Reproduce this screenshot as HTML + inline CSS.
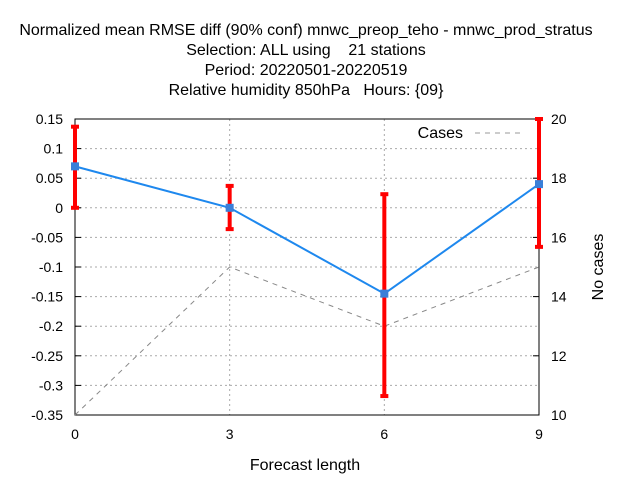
<!DOCTYPE html>
<html><head><meta charset="utf-8"><style>
body{margin:0;background:#fff}
svg text{font-family:"Liberation Sans",sans-serif;font-size:14px;fill:#000;white-space:pre}
svg text.big{font-size:16px}
</style></head><body>
<svg id="chart" width="640" height="480">
<g>
<text class="big" x="306" y="35" text-anchor="middle">Normalized mean RMSE diff (90% conf) mnwc_preop_teho - mnwc_prod_stratus</text>
<text class="big" x="306" y="55" text-anchor="middle">Selection: ALL using    21 stations</text>
<text class="big" x="306" y="75" text-anchor="middle">Period: 20220501-20220519</text>
<text class="big" x="306" y="95" text-anchor="middle">Relative humidity 850hPa   Hours: {09}</text>
</g>
<g id="grid"></g><g id="axes"></g><g id="marks"></g>
<text class="big" x="305" y="470" text-anchor="middle">Forecast length</text>
<text class="big" transform="translate(603,267) rotate(-90)" text-anchor="middle">No cases</text>
<g>
<text class="big" x="463" y="138" text-anchor="end">Cases</text>
<line x1="475" y1="133" x2="520" y2="133" stroke="#999" stroke-dasharray="5,5"/>
</g>
</svg>
<script>
const categories=[0,3,6,9];
const meanValues=[0.07,0.0,-0.145,0.04];
const errLow=[0.0,-0.036,-0.318,-0.066];
const errHigh=[0.137,0.037,0.023,0.15];
const cases=[10,15,13,15];
const yTicks=[0.15,0.1,0.05,0,-0.05,-0.1,-0.15,-0.2,-0.25,-0.3,-0.35];
const y2Ticks=[10,12,14,16,18,20];
const L=75,R=539,T=119,B=415;
const xs=v=>L+(v-0)/9*(R-L);
const ys=v=>T+(0.15-v)/0.5*(B-T);
const y2=v=>B-(v-10)/10*(B-T);
const NS="http://www.w3.org/2000/svg";
function mk(par,tag,at){const e=document.createElementNS(NS,tag);for(const k in at)e.setAttribute(k,at[k]);document.getElementById(par).appendChild(e);return e;}
yTicks.forEach(t=>{const y=ys(t);
 if(t<0.15&&t>-0.35){const g=mk('grid','line',{x1:L,x2:R,y1:y,y2:y,stroke:'#aaa','stroke-dasharray':'2,3'});
 
 }
 mk('axes','line',{x1:L,x2:L+6,y1:y,y2:y,stroke:'#000'});
 const tx=mk('axes','text',{x:L-12,y:y+5,'text-anchor':'end'});tx.textContent=(t===0?'0':String(t));
 
 
});
y2Ticks.forEach(t=>{const y=y2(t);
 mk('axes','line',{x1:R-6,x2:R,y1:y,y2:y,stroke:'#000'});
 const tx=mk('axes','text',{x:R+12,y:y+5});tx.textContent=t;
 
 
});
categories.forEach(c=>{const x=xs(c);
 if(c>0&&c<9){const g=mk('grid','line',{x1:x,x2:x,y1:T,y2:B,stroke:'#aaa','stroke-dasharray':'2,3'});
 
 }
 const tx=mk('axes','text',{x:x,y:B+24,'text-anchor':'middle'});tx.textContent=c;
 
 
});
const fr=mk('axes','rect',{x:L,y:T,width:R-L,height:B-T,fill:'none',stroke:'#000'});


const cl=mk('marks','polyline',{points:categories.map((c,i)=>xs(c)+','+y2(cases[i])).join(' '),fill:'none',stroke:'#888','stroke-dasharray':'5,5'});


const ml=mk('marks','polyline',{points:categories.map((c,i)=>xs(c)+','+ys(meanValues[i])).join(' '),fill:'none',stroke:'#1e88ee','stroke-width':2});


categories.forEach((c,i)=>{const x=xs(c);
 const e=mk('marks','line',{x1:x,x2:x,y1:ys(errHigh[i]),y2:ys(errLow[i]),stroke:'#f00','stroke-width':4});
 
 
 mk('marks','line',{x1:x-4,x2:x+4,y1:ys(errHigh[i]),y2:ys(errHigh[i]),stroke:'#f00','stroke-width':4});
 mk('marks','line',{x1:x-4,x2:x+4,y1:ys(errLow[i]),y2:ys(errLow[i]),stroke:'#f00','stroke-width':4});
 const p=mk('marks','rect',{x:x-4,y:ys(meanValues[i])-4,width:8,height:8,fill:'#3a7fd8'});
 
 
});
</script>
</body></html>
